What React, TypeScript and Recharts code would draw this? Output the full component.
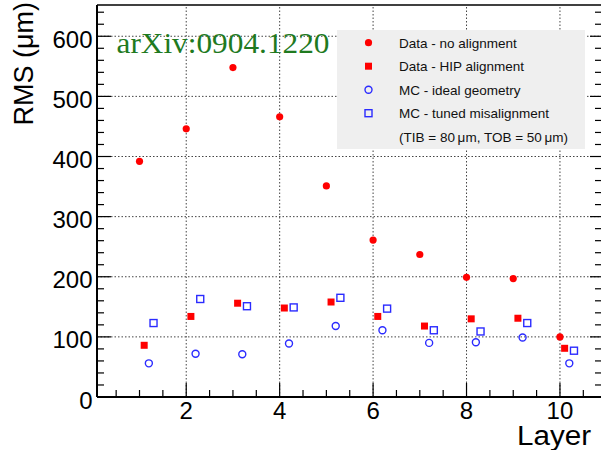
import { ReferenceLine, Scatter, ScatterChart, XAxis, YAxis } from 'recharts';

const layers = [1, 2, 3, 4, 5, 6, 7, 8, 9, 10];
const noAlignment = [392, 446, 548, 466, 351, 261, 237, 199, 197, 100];
const hipAlignment = [86, 134, 156, 148, 158, 134, 118, 130, 131, 81];
const mcIdeal = [56, 72, 71, 89, 118, 111, 90, 91, 99, 56];
const mcTuned = [123, 163, 151, 149, 165, 147, 111, 109, 123, 77];

const xMajor = [2, 4, 6, 8, 10];
const xMinor = [0.5, 1, 1.5, 2.5, 3, 3.5, 4.5, 5, 5.5, 6.5, 7, 7.5, 8.5, 9, 9.5, 10.5];
const yMajor = [0, 100, 200, 300, 400, 500, 600];
const yMinor = [20, 40, 60, 80, 120, 140, 160, 180, 220, 240, 260, 280, 320, 340, 360, 380, 420, 440, 460, 480, 520, 540, 560, 580, 620, 640];

const legendItems = [
  { name: 'Data - no alignment', kind: 'dot' },
  { name: 'Data - HIP alignment', kind: 'square' },
  { name: 'MC - ideal geometry', kind: 'circle' },
  { name: 'MC - tuned misalignment', kind: 'box' },
  { name: '(TIB = 80\u2009\u03bcm, TOB = 50\u2009\u03bcm)', kind: 'none' },
];

const RED = '#ff0000';
const BLUE = '#2b2bff';
const FONT = '"Liberation Sans", Arial, sans-serif';

const toPoints = (vals: number[], shift: number) =>
  layers.map((l, i) => ({ x: l + shift, y: vals[i] }));

const isMajorX = (v: number) => xMajor.includes(v);
const isMajorY = (v: number) => yMajor.includes(v);

function Marker({ kind, cx, cy }: { kind: string; cx: number; cy: number }) {
  if (kind === 'dot') return <circle cx={cx} cy={cy} r={3.6} fill={RED} />;
  if (kind === 'square') return <rect x={cx - 3.5} y={cy - 3.5} width={7} height={7} fill={RED} />;
  if (kind === 'circle')
    return <circle cx={cx} cy={cy} r={3.5} fill="none" stroke={BLUE} strokeWidth={1.4} />;
  if (kind === 'box')
    return <rect x={cx - 3.5} y={cy - 3.5} width={7} height={7} fill="none" stroke={BLUE} strokeWidth={1.4} />;
  return null;
}

const shapeFor = (kind: string) => (p: any) => <Marker kind={kind} cx={p.cx} cy={p.cy} />;

function BottomTick({ x, y, payload }: any) {
  const major = isMajorX(payload.value);
  return (
    <g>
      <line x1={x} x2={x} y1={y} y2={y - (major ? 14 : 7)} stroke="#000" strokeWidth={1.2} />
      {major && (
        <text x={x} y={y + 21.5} textAnchor="middle" fontSize={24} fontFamily={FONT} fill="#000">
          {payload.value}
        </text>
      )}
    </g>
  );
}

function TopTick({ x, y, payload }: any) {
  const major = isMajorX(payload.value);
  return <line x1={x} x2={x} y1={y} y2={y + (major ? 12 : 7)} stroke="#000" strokeWidth={1.2} />;
}

function LeftTick({ x, y, payload }: any) {
  const major = isMajorY(payload.value);
  return (
    <g>
      <line x1={x} x2={x + (major ? 14 : 7)} y1={y} y2={y} stroke="#000" strokeWidth={1.2} />
      {major && (
        <text x={x - 4.5} y={y + 11.5} textAnchor="end" fontSize={24} fontFamily={FONT} fill="#000">
          {payload.value}
        </text>
      )}
    </g>
  );
}

function RightTick({ x, y, payload }: any) {
  const major = isMajorY(payload.value);
  return <line x1={x} x2={x - (major ? 12 : 7)} y1={y} y2={y} stroke="#000" strokeWidth={1.2} />;
}

function LegendBox() {
  return (
    <div style={{ position: 'absolute', left: 337, top: 30, width: 248, height: 119, background: '#efefef' }}>
      <svg width={248} height={119} style={{ display: 'block' }}>
        {legendItems.map((it, i) => {
          const cy = 12.7 + i * 23.5;
          return (
            <g key={it.name}>
              <Marker kind={it.kind} cx={31.5} cy={cy} />
              <text x={62} y={cy + 5} fontSize={13.5} fontFamily={FONT} fill="#111">
                {it.name}
              </text>
            </g>
          );
        })}
      </svg>
    </div>
  );
}

const axisLine = { stroke: '#000', strokeWidth: 2 };
const xDomain: [number, number] = [0.09, 10.9];
const yDomain: [number, number] = [0, 652];

export default function App() {
  return (
    <div style={{ position: 'absolute', left: 0, top: 0, width: 601, height: 450, overflow: 'hidden', background: '#fff' }}>
      <ScatterChart width={606} height={450} margin={{ top: 0, right: 0, bottom: 0, left: 0 }}>
        <XAxis
          dataKey="x"
          type="number"
          domain={xDomain}
          allowDataOverflow
          ticks={[...xMajor, ...xMinor]}
          interval={0}
          height={53}
          tickSize={0}
          tickMargin={0}
          tickLine={false}
          axisLine={axisLine}
          tick={<BottomTick />}
        />
        <XAxis
          xAxisId="top"
          orientation="top"
          type="number"
          domain={xDomain}
          allowDataOverflow
          ticks={[...xMajor, ...xMinor]}
          interval={0}
          height={5}
          tickSize={0}
          tickMargin={0}
          tickLine={false}
          axisLine={{ stroke: '#000', strokeWidth: 1.5 }}
          tick={<TopTick />}
        />
        <YAxis
          dataKey="y"
          type="number"
          domain={yDomain}
          allowDataOverflow
          ticks={[...yMajor, ...yMinor]}
          interval={0}
          width={97}
          tickSize={0}
          tickMargin={0}
          tickLine={false}
          axisLine={axisLine}
          tick={<LeftTick />}
        />
        <YAxis
          yAxisId="right"
          orientation="right"
          type="number"
          domain={yDomain}
          allowDataOverflow
          ticks={[...yMajor, ...yMinor]}
          interval={0}
          width={4}
          tickSize={0}
          tickMargin={0}
          tickLine={false}
          axisLine={{ stroke: '#000', strokeWidth: 1.5 }}
          tick={<RightTick />}
        />
        {xMajor.map((v) => (
          <ReferenceLine key={'gx' + v} x={v} stroke="#444" strokeDasharray="1.5 2" strokeWidth={1} />
        ))}
        {yMajor.slice(1).map((v) => (
          <ReferenceLine key={'gy' + v} y={v} stroke="#444" strokeDasharray="1.5 2" strokeWidth={1} />
        ))}
        <Scatter name="Data - no alignment" data={toPoints(noAlignment, 0)} shape={shapeFor('dot')} isAnimationActive={false} />
        <Scatter name="Data - HIP alignment" data={toPoints(hipAlignment, 0.1)} shape={shapeFor('square')} isAnimationActive={false} />
        <Scatter name="MC - ideal geometry" data={toPoints(mcIdeal, 0.2)} shape={shapeFor('circle')} isAnimationActive={false} />
        <Scatter name="MC - tuned misalignment" data={toPoints(mcTuned, 0.3)} shape={shapeFor('box')} isAnimationActive={false} />
      </ScatterChart>
      <LegendBox />
      <svg width={601} height={450} style={{ position: 'absolute', left: 0, top: 0, pointerEvents: 'none' }}>
        <text
          transform="translate(32.5, 2) rotate(-90)"
          textAnchor="end"
          fontSize={27}
          fontFamily={FONT}
          fill="#000"
        >
          RMS (μm)
        </text>
        <text
          x={517}
          y={445}
          fontSize={27}
          textLength={74}
          lengthAdjust="spacingAndGlyphs"
          fontFamily={FONT}
          fill="#000"
        >
          Layer
        </text>
        <text
          x={116.5}
          y={53.3}
          fontSize={30}
          textLength={213}
          lengthAdjust="spacingAndGlyphs"
          fontFamily='"Liberation Serif", "Times New Roman", serif'
          fill="#1f7a1f"
        >
          arXiv:0904.1220
        </text>
      </svg>
    </div>
  );
}
